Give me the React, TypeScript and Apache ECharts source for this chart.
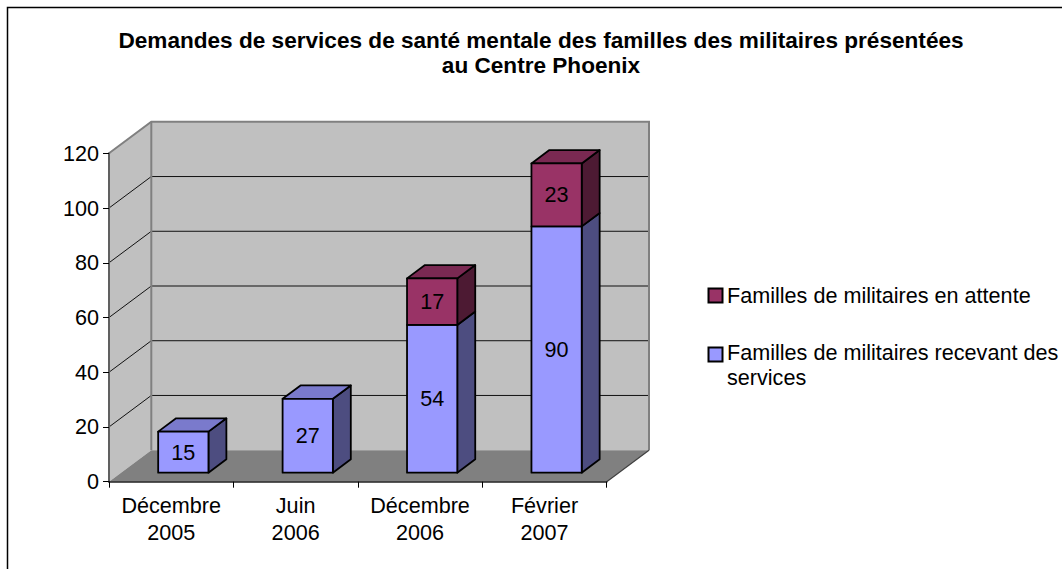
import React, { useEffect, useRef } from 'react';
import * as echarts from 'echarts';

// ---- data ----
const chartTitle =
  'Demandes de services de santé mentale des familles des militaires présentées\nau Centre Phoenix';
const categories = ['Décembre\n2005', 'Juin\n2006', 'Décembre\n2006', 'Février\n2007'];
const recevant = [15, 27, 54, 90];
const attente = [0, 0, 17, 23];
const legendAttente = 'Familles de militaires en attente';
const legendRecevant = 'Familles de militaires recevant des\nservices';
const yMin = 0;
const yMax = 120;
const yInterval = 20;

// ---- style ----
const FONT = '"Liberation Sans", Arial, Helvetica, sans-serif';
const FS = 21.6;
const DEPTH = [42.3, -31.5];
const F0 = 0.286;
const F1 = 0.71;
const BAR_RATIO = 0.404;
const BLUE = { front: '#9999FF', top: '#7A7ACC', side: '#4D4D80' };
const MAROON = { front: '#993366', top: '#7A2952', side: '#4D1A33' };

function makeBarRenderer(colors: { front: string; top: string; side: string }) {
  return (params: any, api: any) => {
    const i = api.value(0);
    const base = api.value(1);
    const v = api.value(2);
    const isTop = api.value(3) === 1;
    if (!v) return null;
    const catW = api.size([1, 0])[0];
    const c0 = api.coord([i, base]);
    const c1 = api.coord([i, base + v]);
    const ox = F0 * DEPTH[0];
    const oy = F0 * DEPTH[1];
    const bw = catW * BAR_RATIO;
    const x0 = c0[0] + ox - bw / 2;
    const x1 = x0 + bw;
    const yb = c0[1] + oy;
    const yt = c1[1] + oy;
    const dx = (F1 - F0) * DEPTH[0];
    const dy = (F1 - F0) * DEPTH[1];
    const stroke = { stroke: '#000', lineWidth: 1.8, lineJoin: 'round' };
    const children: any[] = [
      {
        type: 'polygon',
        shape: { points: [[x1, yb], [x1 + dx, yb + dy], [x1 + dx, yt + dy], [x1, yt]] },
        style: { fill: colors.side, ...stroke },
      },
    ];
    if (isTop) {
      children.push({
        type: 'polygon',
        shape: { points: [[x0, yt], [x0 + dx, yt + dy], [x1 + dx, yt + dy], [x1, yt]] },
        style: { fill: colors.top, ...stroke },
      });
    }
    children.push({
      type: 'rect',
      shape: { x: x0, y: yt, width: bw, height: yb - yt },
      style: { fill: colors.front, ...stroke },
    });
    children.push({
      type: 'text',
      x: (x0 + x1) / 2,
      y: (yt + yb) / 2,
      style: {
        text: String(v),
        fill: '#000',
        fontSize: FS,
        fontFamily: FONT,
        align: 'center',
        verticalAlign: 'middle',
      },
    });
    return { type: 'group', children };
  };
}

function frameRenderer(params: any, api: any) {
  const catW = api.size([1, 0])[0];
  const gx0 = api.coord([0, yMin])[0] - catW / 2;
  const gx1 = api.coord([categories.length - 1, yMin])[0] + catW / 2;
  const y0 = api.coord([0, yMin])[1];
  const yTop = api.coord([0, yMax])[1];
  const [Dx, Dy] = DEPTH;
  const children: any[] = [];
  children.push({
    type: 'polygon',
    shape: { points: [[gx0, y0], [gx0, yTop], [gx0 + Dx, yTop + Dy], [gx0 + Dx, y0 + Dy]] },
    style: { fill: '#C0C0C0' },
  });
  children.push({
    type: 'polygon',
    shape: {
      points: [[gx0 + Dx, yTop + Dy], [gx1 + Dx, yTop + Dy], [gx1 + Dx, y0 + Dy], [gx0 + Dx, y0 + Dy]],
    },
    style: { fill: '#C0C0C0' },
  });
  children.push({
    type: 'polygon',
    shape: { points: [[gx0, y0], [gx1, y0], [gx1 + Dx, y0 + Dy], [gx0 + Dx, y0 + Dy]] },
    style: { fill: '#808080' },
  });
  for (let v = yMin + yInterval; v < yMax; v += yInterval) {
    const yv = api.coord([0, v])[1];
    children.push({
      type: 'line',
      shape: { x1: gx0 + Dx, y1: yv + Dy, x2: gx1 + Dx, y2: yv + Dy },
      style: { stroke: '#111', lineWidth: 1 },
    });
    children.push({
      type: 'line',
      shape: { x1: gx0, y1: yv, x2: gx0 + Dx, y2: yv + Dy },
      style: { stroke: '#111', lineWidth: 1 },
    });
  }
  const edge = { stroke: '#808080', lineWidth: 2 };
  children.push({
    type: 'polyline',
    shape: { points: [[gx0, yTop], [gx0 + Dx, yTop + Dy], [gx1 + Dx, yTop + Dy], [gx1 + Dx, y0 + Dy]] },
    style: { ...edge, fill: null },
  });
  children.push({
    type: 'line',
    shape: { x1: gx0 + Dx, y1: yTop + Dy, x2: gx0 + Dx, y2: y0 + Dy },
    style: edge,
  });
  children.push({
    type: 'line',
    shape: { x1: gx1, y1: y0, x2: gx1 + Dx, y2: y0 + Dy },
    style: { stroke: '#404040', lineWidth: 1.2 },
  });
  return { type: 'group', children };
}

export default function App() {
  const ref = useRef<HTMLDivElement>(null);
  useEffect(() => {
    if (!ref.current) return;
    const chart = echarts.init(ref.current, null, { renderer: 'svg' });
    const option: any = {
      animation: false,
      backgroundColor: '#fff',
      grid: {
        left: 109,
        right: 455.3,
        top: 153.3,
        bottom: 87.3,
        containLabel: false,
        outerBoundsMode: 'none',
      },
      xAxis: {
        type: 'category',
        data: categories,
        z: 10,
        axisLine: { show: true, lineStyle: { color: '#202020', width: 1.6 } },
        axisTick: { show: true, length: 6, lineStyle: { color: '#000', width: 1 } },
        axisLabel: {
          interval: 0,
          color: '#000',
          fontSize: FS,
          lineHeight: 27,
          fontFamily: FONT,
          margin: 10,
        },
      },
      yAxis: {
        type: 'value',
        min: yMin,
        max: yMax,
        interval: yInterval,
        z: 10,
        axisLine: { show: true, lineStyle: { color: '#606060', width: 2 } },
        axisTick: { show: true, length: 6, lineStyle: { color: '#000', width: 1 } },
        splitLine: { show: false },
        axisLabel: { color: '#000', fontSize: FS, fontFamily: FONT, margin: 10 },
      },
      graphic: [
        {
          type: 'rect',
          z: -10,
          shape: { x: 7.5, y: 7.5, width: 1200, height: 700 },
          style: { fill: null, stroke: '#000', lineWidth: 1.5 },
        },
        {
          type: 'text',
          x: 541,
          y: 27.5,
          style: {
            text: chartTitle,
            fill: '#000',
            fontSize: 22.6,
            fontWeight: 'bold',
            fontFamily: FONT,
            lineHeight: 25,
            align: 'center',
            verticalAlign: 'top',
          },
        },
        {
          type: 'rect',
          shape: { x: 708.5, y: 288.5, width: 14, height: 14 },
          style: { fill: MAROON.front, stroke: '#000', lineWidth: 2 },
        },
        {
          type: 'text',
          x: 727,
          y: 295,
          style: {
            text: legendAttente,
            fill: '#000',
            fontSize: FS,
            fontFamily: FONT,
            align: 'left',
            verticalAlign: 'middle',
          },
        },
        {
          type: 'rect',
          shape: { x: 708.5, y: 347.5, width: 14, height: 14 },
          style: { fill: BLUE.front, stroke: '#000', lineWidth: 2 },
        },
        {
          type: 'text',
          x: 727,
          y: 340.6,
          style: {
            text: legendRecevant,
            fill: '#000',
            fontSize: FS,
            lineHeight: 24.5,
            fontFamily: FONT,
            align: 'left',
            verticalAlign: 'top',
          },
        },
      ],
      series: [
        {
          type: 'custom',
          name: 'frame',
          silent: true,
          z: 1,
          data: [[0, 0]],
          encode: { x: 0, y: 1 },
          renderItem: frameRenderer,
        },
        {
          type: 'custom',
          name: legendRecevant,
          silent: true,
          z: 3,
          data: recevant.map((v, i) => [i, 0, v, attente[i] === 0 ? 1 : 0]),
          encode: { x: 0, y: 2 },
          renderItem: makeBarRenderer(BLUE),
        },
        {
          type: 'custom',
          name: legendAttente,
          silent: true,
          z: 4,
          data: attente.map((v, i) => [i, recevant[i], v, 1]),
          encode: { x: 0, y: 2 },
          renderItem: makeBarRenderer(MAROON),
        },
      ],
    };
    chart.setOption(option);
    return () => chart.dispose();
  }, []);
  return (
    <div
      ref={ref}
      style={{ position: 'fixed', left: 0, top: 0, width: 1062, height: 569, background: '#fff' }}
    />
  );
}
